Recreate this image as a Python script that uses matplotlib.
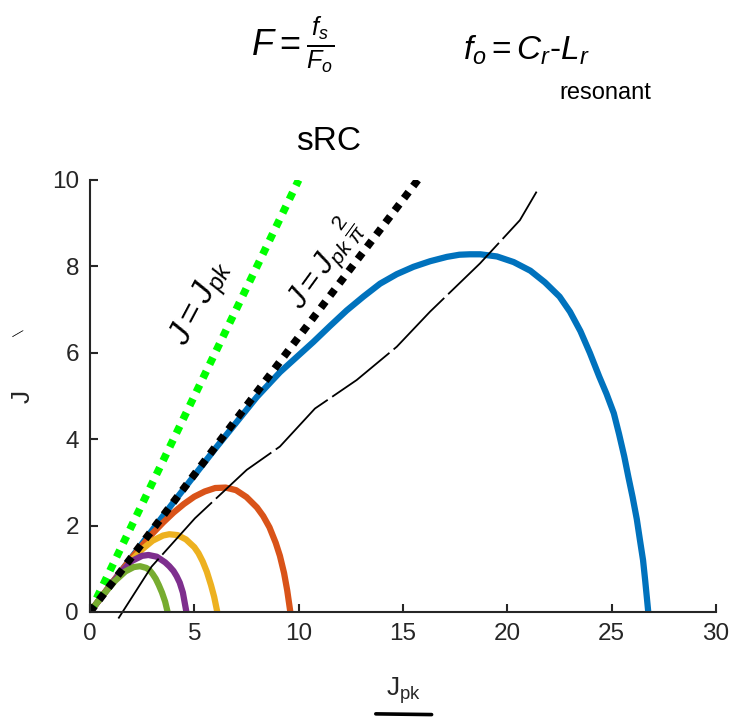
import numpy as np
import matplotlib.pyplot as plt
from matplotlib.lines import Line2D

plt.rcParams['font.family'] = ['Liberation Sans', 'DejaVu Sans']
plt.rcParams['mathtext.fontset'] = 'custom'
plt.rcParams['mathtext.rm'] = 'Liberation Sans'
plt.rcParams['mathtext.it'] = 'Liberation Sans:italic'

#######################################
# OUTPUT PLANE CURVES (Jpk, J)

blue_x = [0, 2, 4, 6, 8, 9.1, 10.7, 11.5, 12.3, 13.1, 13.9, 14.7, 15.5, 16.3,
          17.1, 17.7, 18.2, 18.7, 19.5, 20.3, 21.1, 21.8, 22.5, 23.0, 23.5,
          23.95, 24.4, 24.75, 25.1, 25.35, 25.6, 25.8, 26.0, 26.2, 26.35,
          26.5, 26.6, 26.75]
blue_y = [0, 1.27, 2.54, 3.78, 4.98, 5.55, 6.25, 6.62, 6.98, 7.3, 7.6, 7.82,
          7.99, 8.12, 8.22, 8.27, 8.28, 8.28, 8.23, 8.1, 7.9, 7.63, 7.3, 6.95,
          6.5, 6.0, 5.45, 5.05, 4.6, 4.12, 3.6, 3.12, 2.66, 2.15, 1.67, 1.2,
          0.74, 0]

orange_x = [0, 1, 2, 3, 3.5, 4, 4.5, 5, 5.5, 6, 6.5, 7, 7.5, 8, 8.3, 8.6,
            8.9, 9.1, 9.3, 9.45, 9.6]
orange_y = [0, 0.64, 1.26, 1.82, 2.07, 2.3, 2.5, 2.67, 2.79, 2.87, 2.88,
            2.82, 2.66, 2.42, 2.22, 1.96, 1.6, 1.3, 0.9, 0.5, 0]

yellow_x = [0, 1, 2, 2.5, 3, 3.5, 3.8, 4.2, 4.6, 5, 5.2, 5.4, 5.6, 5.8,
            5.95, 6.1]
yellow_y = [0, 0.63, 1.2, 1.45, 1.65, 1.77, 1.8, 1.78, 1.68, 1.5, 1.36, 1.17,
            0.93, 0.62, 0.35, 0]

purple_x = [0, 0.8, 1.5, 2, 2.5, 2.8, 3.2, 3.6, 3.8, 4, 4.15, 4.3, 4.45,
            4.62]
purple_y = [0, 0.5, 0.93, 1.18, 1.3, 1.32, 1.28, 1.15, 1.06, 0.95, 0.83,
            0.68, 0.45, 0]

green_x = [0, 0.6, 1.2, 1.7, 2.1, 2.4, 2.7, 2.85, 3.0, 3.15, 3.3, 3.45,
           3.6, 3.72]
green_y = [0, 0.38, 0.72, 0.94, 1.04, 1.06, 1.02, 0.97, 0.88, 0.77, 0.62,
           0.45, 0.24, 0]

# limit lines J = Jpk and J = (2/pi) Jpk
lim1_x = [0, 10]
lim1_y = [0, 10]
lim2_x = [0, 5 * np.pi]
lim2_y = [0, 10]

# hand sketched line
sketch_x = [1.36, 2.95, 5.03, 7.51, 9.10, 10.78, 12.78, 14.70, 16.29, 18.69,
            20.60, 21.40]
sketch_y = [-0.15, 1.05, 2.17, 3.29, 3.83, 4.71, 5.37, 6.14, 6.95, 8.07,
            9.07, 9.73]

#######################################
# PLOT

fig = plt.figure(figsize=(7.34, 7.24), dpi=100)
ax = fig.add_axes([0.1226, 0.1547, 0.853, 0.5967])

lw = 4.5
curve = dict(lw=lw, solid_joinstyle='round')
ax.plot(blue_x, blue_y, color='#0072BD', **curve)
ax.plot(orange_x, orange_y, color='#D95319', **curve)
ax.plot(yellow_x, yellow_y, color='#EDB120', **curve)
ax.plot(purple_x, purple_y, color='#7E2F8E', **curve)
ax.plot(green_x, green_y, color='#77AC30', **curve)
ax.plot(lim1_x, lim1_y, color='#00FF00', lw=5.5, dashes=(1, 1),
        dash_capstyle='butt')
ax.plot(lim2_x, lim2_y, color='black', lw=5.5, dashes=(1, 1),
        dash_capstyle='butt')
ax.plot(sketch_x, sketch_y, color='black', lw=1.3, dashes=(40, 3),
        clip_on=False)

ax.set_xlim(0, 30)
ax.set_ylim(0, 10)
ax.set_xticks(np.arange(0, 31, 5))
ax.set_yticks(np.arange(0, 11, 2))
for s in ['top', 'right']:
    ax.spines[s].set_visible(False)
for s in ['left', 'bottom']:
    ax.spines[s].set_linewidth(1.5)
    ax.spines[s].set_color('#262626')
ax.tick_params(direction='in', length=6, width=1.5, colors='#262626',
               labelsize=17.5, pad=8)
ax.set_xlabel(r'J$_{\mathrm{pk}}$', fontsize=19, color='#262626', labelpad=22)
ax.set_ylabel('J', fontsize=19, color='#262626', labelpad=12)

# handwritten notes
ink = dict(color='black', ha='center', va='center')
fig.text(0.398, 0.938, r'$F = \frac{f_s}{F_o}$', fontsize=26, **ink)
fig.text(0.717, 0.931, r'$f_o = C_r$-$L_r$', fontsize=24, **ink)
fig.text(0.825, 0.872, 'resonant', fontsize=17, **ink)
fig.text(0.448, 0.804, 'sRC', fontsize=24, **ink)
fig.text(0.275, 0.580, r'$J = J_{pk}$', fontsize=24, rotation=62, **ink)
fig.text(0.440, 0.636, r'$J = J_{pk}\,\frac{2}{\pi}$', fontsize=22,
         rotation=54, **ink)
fig.text(0.025, 0.539, '\u2014', fontsize=9, rotation=30, **ink)

# underline stroke beneath the x label
fig.add_artist(Line2D([0.512, 0.588], [0.014, 0.013], color='black', lw=2.6,
                      solid_capstyle='round'))

plt.savefig('out.png', dpi=100)
